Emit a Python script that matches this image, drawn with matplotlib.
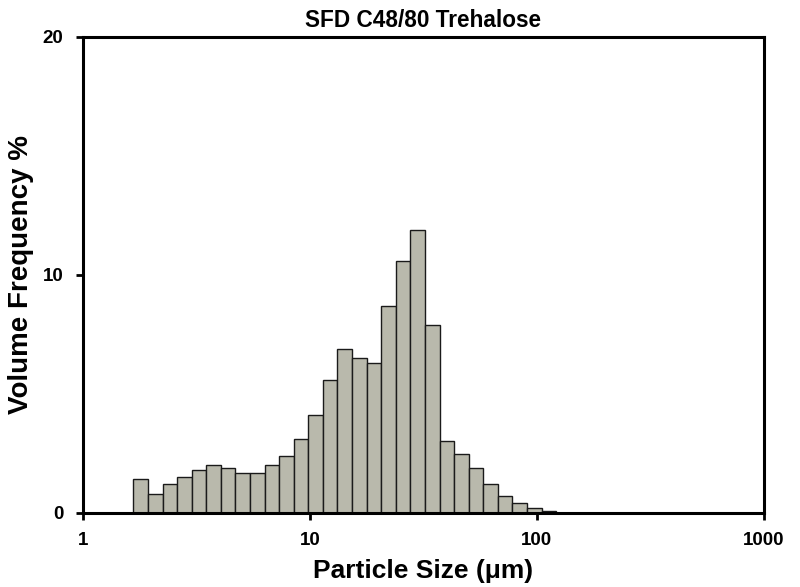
import matplotlib
matplotlib.use("Agg")
import matplotlib.pyplot as plt
from matplotlib.ticker import FixedLocator, FixedFormatter, NullLocator

plt.rcParams['font.family'] = ['Liberation Sans', 'DejaVu Sans']

# bin edges (µm)
bin_edges = [1.671, 1.937, 2.246, 2.604, 3.018, 3.499, 4.057, 4.703, 5.452, 6.321,
             7.328, 8.496, 9.849, 11.42, 13.24, 15.35, 17.79, 20.63, 23.91, 27.72,
             32.14, 37.26, 43.19, 50.08, 58.05, 67.30, 78.02, 90.45, 104.9, 121.6]
# volume frequency (%) per bin
volume_pct = [1.40, 0.78, 1.19, 1.48, 1.79, 1.99, 1.89, 1.68, 1.68, 1.99,
              2.39, 3.08, 4.09, 5.59, 6.89, 6.50, 6.27, 8.68, 10.59, 11.88,
              7.89, 3.00, 2.48, 1.89, 1.21, 0.69, 0.41, 0.21, 0.09]

x_ticks = [1, 10, 100, 1000]
x_ticklabels = ['1', '10', '100', '1000']
y_ticks = [0, 10, 20]
y_ticklabels = ['0', '10', '20']

fig = plt.figure(figsize=(8, 5.87), dpi=100)
ax = fig.add_axes([0.1034, 0.1266, 0.955 - 0.1034, 0.9378 - 0.1266])

lefts = bin_edges[:-1]
widths = [bin_edges[i + 1] - bin_edges[i] for i in range(len(lefts))]
ax.bar(lefts, volume_pct, width=widths, align='edge', color='#b9b9ac',
       edgecolor='#1a1a1a', linewidth=1.0, zorder=2)

ax.set_xscale('log')
ax.set_xlim(1, 1000)
ax.set_ylim(0, 20)
ax.xaxis.set_major_locator(FixedLocator(x_ticks))
ax.xaxis.set_major_formatter(FixedFormatter(x_ticklabels))
ax.xaxis.set_minor_locator(NullLocator())
ax.yaxis.set_major_locator(FixedLocator(y_ticks))
ax.yaxis.set_major_formatter(FixedFormatter(y_ticklabels))

for s in ax.spines.values():
    s.set_linewidth(2.2)
    s.set_color('black')

ax.tick_params(axis='both', direction='out', length=5, width=2.0,
               labelsize=13.5, pad=9)
for lbl in ax.get_xticklabels() + ax.get_yticklabels():
    lbl.set_fontweight('bold')

ax.set_title('SFD C48/80 Trehalose', fontsize=16.3, fontweight='bold', pad=7)
ax.set_xlabel('Particle Size (\u03bcm)', fontsize=19, fontweight='bold', labelpad=7)
ax.set_ylabel('Volume Frequency %', fontsize=20, fontweight='bold', labelpad=6)

fig.savefig('out.png', dpi=100)
